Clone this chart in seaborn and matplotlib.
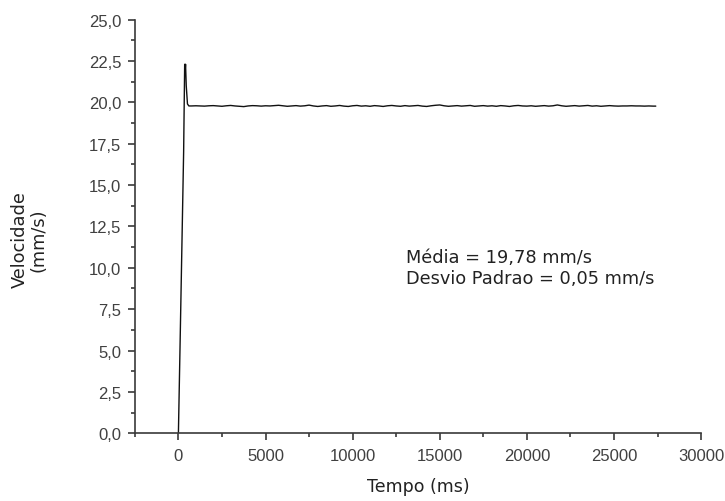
import matplotlib
matplotlib.use("Agg")
import matplotlib.pyplot as plt
from matplotlib.ticker import FuncFormatter, MultipleLocator
import seaborn as sns
import pandas as pd

# Velocity trace recorded during the run (time in ms, velocity in mm/s)
tempo_ms = [
    0, 100, 200, 300, 360, 385, 410, 450, 520, 600,
    750, 1000, 1250, 1500, 1750, 2000, 2250, 2500, 2750, 3000,
    3250, 3500, 3750, 4000, 4250, 4500, 4750, 5000, 5250, 5500,
    5750, 6000, 6250, 6500, 6750, 7000, 7250, 7500, 7750, 8000,
    8250, 8500, 8750, 9000, 9250, 9500, 9750, 10000, 10250, 10500,
    10750, 11000, 11250, 11500, 11750, 12000, 12250, 12500, 12750, 13000,
    13250, 13500, 13750, 14000, 14250, 14500, 14750, 15000, 15250, 15500,
    15750, 16000, 16250, 16500, 16750, 17000, 17250, 17500, 17750, 18000,
    18250, 18500, 18750, 19000, 19250, 19500, 19750, 20000, 20250, 20500,
    20750, 21000, 21250, 21500, 21750, 22000, 22250, 22500, 22750, 23000,
    23250, 23500, 23750, 24000, 24250, 24500, 24750, 25000, 25250, 25500,
    25750, 26000, 26250, 26500, 26750, 27000, 27250, 27400,
]
velocidade = [
    0.0, 5.6, 11.3, 17.0, 22.3, 21.9, 22.3, 21.0, 19.9, 19.78,
    19.78, 19.79, 19.78, 19.77, 19.79, 19.80, 19.78, 19.76, 19.79, 19.81,
    19.78, 19.76, 19.74, 19.78, 19.80, 19.79, 19.77, 19.79, 19.78, 19.80,
    19.82, 19.79, 19.76, 19.78, 19.80, 19.77, 19.79, 19.83, 19.78, 19.75,
    19.78, 19.80, 19.76, 19.78, 19.81, 19.77, 19.75, 19.79, 19.81, 19.77,
    19.79, 19.76, 19.80, 19.78, 19.75, 19.79, 19.81, 19.78, 19.76, 19.80,
    19.77, 19.79, 19.81, 19.77, 19.75, 19.79, 19.82, 19.84, 19.79, 19.76,
    19.78, 19.80, 19.77, 19.79, 19.81, 19.76, 19.78, 19.80, 19.77, 19.79,
    19.76, 19.80, 19.78, 19.75, 19.79, 19.81, 19.78, 19.77, 19.79, 19.76,
    19.78, 19.80, 19.77, 19.79, 19.84, 19.79, 19.76, 19.78, 19.80, 19.77,
    19.79, 19.81, 19.77, 19.79, 19.76, 19.78, 19.80, 19.78, 19.77, 19.78,
    19.78, 19.79, 19.78, 19.78, 19.77, 19.78, 19.77, 19.77,
]
media_txt = "Média = 19,78 mm/s"
desvio_txt = "Desvio Padrao = 0,05 mm/s"

sns.set_style("ticks")
plt.rcParams["font.family"] = ["Liberation Sans", "DejaVu Sans"]

df = pd.DataFrame({"Tempo": tempo_ms, "Velocidade": velocidade})

fig = plt.figure(figsize=(7.25, 5.02), dpi=100)
ax = fig.add_axes([0.186, 0.135, 0.781, 0.824])

sns.lineplot(data=df, x="Tempo", y="Velocidade", ax=ax,
             color="#111111", linewidth=1.0, estimator=None, sort=False)

ax.set_xlim(-2500, 30000)
ax.set_ylim(0, 25)

ax.xaxis.set_major_locator(MultipleLocator(5000))
ax.xaxis.set_minor_locator(MultipleLocator(2500))
ax.yaxis.set_major_locator(MultipleLocator(2.5))
ax.yaxis.set_minor_locator(MultipleLocator(1.25))

ax.yaxis.set_major_formatter(FuncFormatter(lambda v, p: f"{v:.1f}".replace(".", ",")))
ax.xaxis.set_major_formatter(FuncFormatter(lambda v, p: f"{int(round(v))}" if v >= 0 else ""))

spine_col = "#3a3a3a"
for side in ("top", "right"):
    ax.spines[side].set_visible(False)
for side in ("left", "bottom"):
    ax.spines[side].set_color(spine_col)
    ax.spines[side].set_linewidth(1.2)

ax.tick_params(axis="both", which="major", direction="out", length=5, width=1.2,
               color=spine_col, labelsize=12, labelcolor="#404040")
ax.tick_params(axis="x", which="major", pad=5.5)
ax.tick_params(axis="y", which="major", pad=4.8)
ax.tick_params(axis="both", which="minor", direction="out", length=3.2, width=1.2,
               color=spine_col)

label_font = {"family": ["DejaVu Sans"], "color": "#222222"}
ax.set_xlabel("Tempo (ms)", fontsize=12.5, **label_font)
ax.set_ylabel("Velocidade\n(mm/s)", fontsize=12.8, linespacing=1.05, **label_font)
ax.xaxis.set_label_coords(0.5, -0.105)
ax.yaxis.set_label_coords(-0.154, 0.47)

ax.text(13070, 10.34, media_txt, fontsize=12.8, ha="left", va="baseline", **label_font)
ax.text(13070, 9.09, desvio_txt, fontsize=12.8, ha="left", va="baseline", **label_font)

fig.savefig("out.png", dpi=100)
